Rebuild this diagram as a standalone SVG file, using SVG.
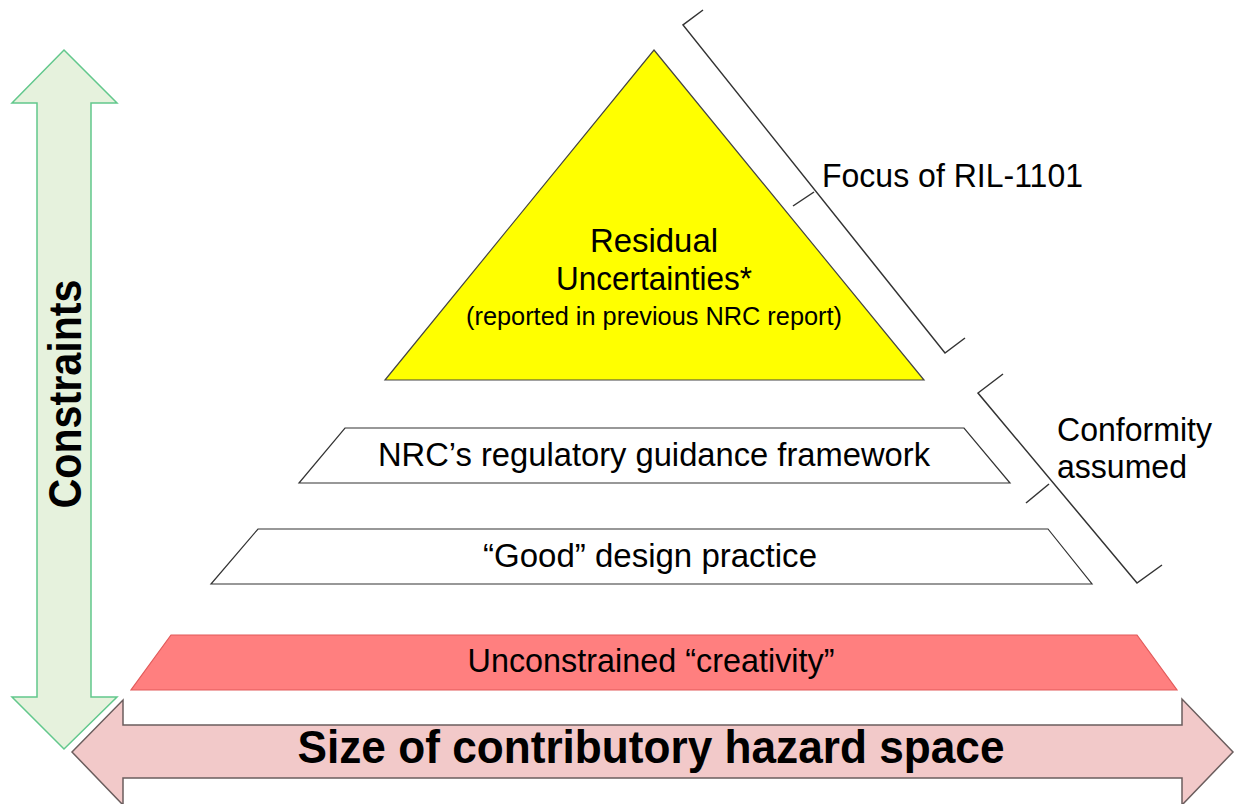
<svg xmlns="http://www.w3.org/2000/svg" width="1238" height="804" viewBox="0 0 1238 804">
<style>
text{font-family:"Liberation Sans",Arial,sans-serif;fill:#000}
.t{font-size:33px}
.thin{fill:none;stroke:#333;stroke-width:1.5}
.tier{fill:#fff;stroke:#333;stroke-width:1.2}
</style>
<rect width="1238" height="804" fill="#fff"/>
<g id="constraints-arrow">
<polygon points="64,50 117,103 91,103 91,697 117,697 64,749 12,697 37,697 37,103 12,103" fill="#e6f2dd" stroke="#62c88c" stroke-width="1.5"/>
<text transform="translate(81,394) rotate(-90)" text-anchor="middle" font-size="46" font-weight="bold" textLength="229" lengthAdjust="spacingAndGlyphs">Constraints</text>
</g>
<g id="hazard-arrow">
<polygon points="72,752 123,700 123,725 1182,725 1182,699 1233,752 1182,805 1182,778 123,778 123,805" fill="#f2c9c9" stroke="#6b5d5d" stroke-width="1.5"/>
<text x="651" y="763" text-anchor="middle" font-size="46" font-weight="bold" textLength="707" lengthAdjust="spacingAndGlyphs">Size of contributory hazard space</text>
</g>
<g id="residual">
<polygon points="654,50 924,380 385,380" fill="#ffff00" stroke="#444" stroke-width="1.2"/>
<text class="t" x="654" y="252" text-anchor="middle" textLength="128" lengthAdjust="spacingAndGlyphs">Residual</text>
<text class="t" x="654" y="290" text-anchor="middle" textLength="196" lengthAdjust="spacingAndGlyphs">Uncertainties*</text>
<text x="654" y="325" text-anchor="middle" font-size="26" textLength="376" lengthAdjust="spacingAndGlyphs">(reported in previous NRC report)</text>
</g>
<g id="nrc-guidance">
<polygon class="tier" points="345,428 964,428 1010,483 299,483"/>
<text class="t" x="654" y="466" text-anchor="middle" textLength="552" lengthAdjust="spacingAndGlyphs">NRC’s regulatory guidance framework</text>
</g>
<g id="good-design">
<polygon class="tier" points="258,529 1048,529 1092,584 211,584"/>
<text class="t" x="650" y="567" text-anchor="middle" textLength="334" lengthAdjust="spacingAndGlyphs">“Good” design practice</text>
</g>
<g id="unconstrained">
<polygon points="171,635 1137,635 1177,690 131,690" fill="#ff7f7f" stroke="#e25a5a" stroke-width="1.2"/>
<text class="t" x="651" y="672" text-anchor="middle" textLength="367" lengthAdjust="spacingAndGlyphs">Unconstrained “creativity”</text>
</g>
<g id="connectors">
<polyline class="thin" points="703,10 683,25 945,353 965,338"/>
<line class="thin" x1="814" y1="192" x2="793" y2="206"/>
<polyline class="thin" points="1003,374 978,393 1137,583 1162,565"/>
<line class="thin" x1="1049" y1="484" x2="1026" y2="503"/>
</g>
<g id="focus-label">
<text class="t" x="822" y="187" textLength="261" lengthAdjust="spacingAndGlyphs">Focus of RIL-1101</text>
</g>
<g id="conformity-label">
<text class="t" x="1057" y="441" textLength="155" lengthAdjust="spacingAndGlyphs">Conformity</text>
<text class="t" x="1057" y="478" textLength="130" lengthAdjust="spacingAndGlyphs">assumed</text>
</g>
</svg>
